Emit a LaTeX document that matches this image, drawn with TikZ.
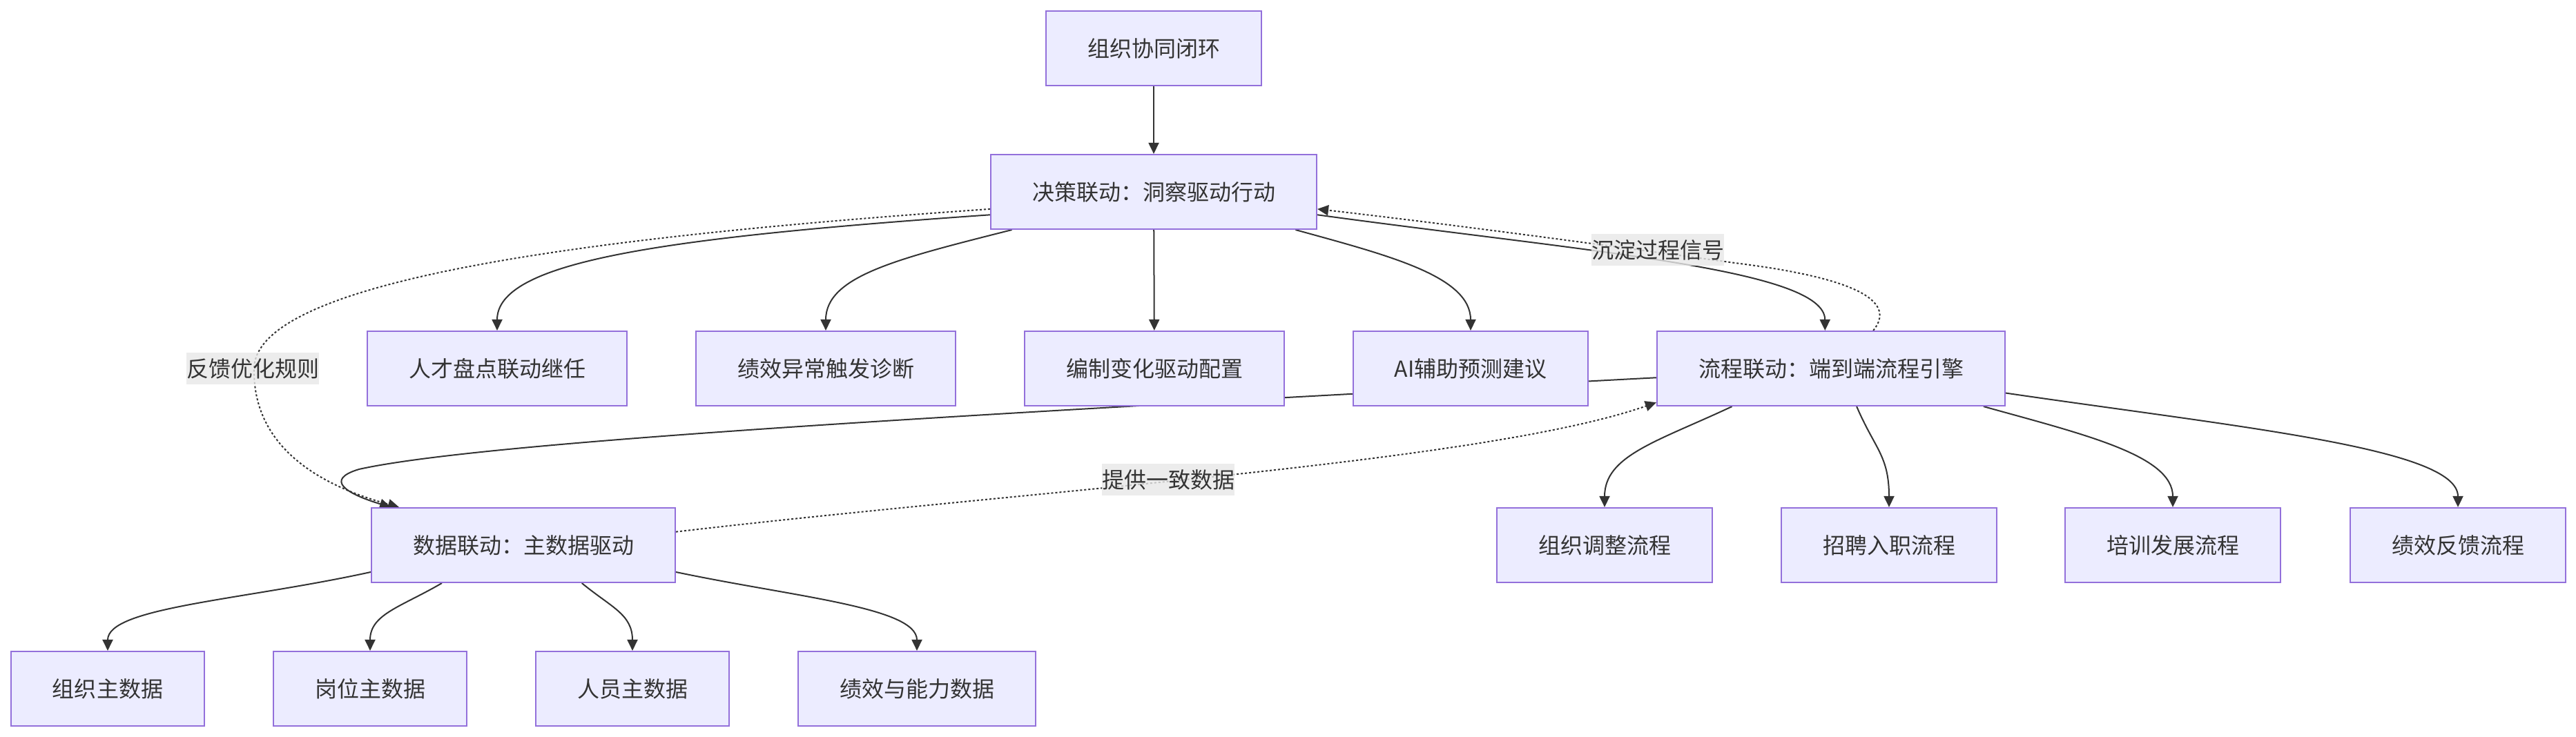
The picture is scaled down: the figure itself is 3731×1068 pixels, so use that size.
\documentclass[tikz,border=0pt]{standalone}
\usepackage{fontspec}
\setmainfont{Noto Sans CJK SC}
\usetikzlibrary{arrows.meta}
\definecolor{boxfill}{HTML}{ECECFF}
\definecolor{boxline}{HTML}{9370DB}
\definecolor{ink}{HTML}{333333}
\definecolor{tagfill}{HTML}{E8E8E8}
\pgfdeclarelayer{back}
\pgfdeclarelayer{edges}
\pgfsetlayers{back,edges,main}

\begin{document}
\begin{tikzpicture}[
  x=0.01cm, y=-0.01cm,
  font=\fontsize{9.1pt}{11pt}\selectfont,
  box/.style={draw=boxline, fill=boxfill, line width=0.02cm, text=ink,
    minimum height=1.08cm, inner xsep=0.6cm, inner ysep=0pt},
  tag/.style={fill=tagfill, fill opacity=0.8, text opacity=1, text=ink,
    inner xsep=0pt, inner ysep=0pt, minimum height=0.46cm},
  link/.style={draw=ink, line width=0.02cm, -{Triangle[length=0.16cm,width=0.15cm]}},
  dotlink/.style={link, dash pattern=on 0.03cm off 0.03cm}
]
  \useasboundingbox (0,0) rectangle (3731,1068);
  \begin{pgfonlayer}{back}
    \fill[white] (0,0) rectangle (3731,1068);
  \end{pgfonlayer}

  \node[box] (loop) at (1671,70) {组织协同闭环};
  \node[box] (decide) at (1671,278) {决策联动：洞察驱动行动};
  \node[box] (talent) at (720,534) {人才盘点联动继任};
  \node[box] (perf) at (1196,534) {绩效异常触发诊断};
  \node[box] (staff) at (1672,534) {编制变化驱动配置};
  \node[box] (ai) at (2130,534) {AI辅助预测建议};
  \node[box] (flow) at (2652,534) {流程联动：端到端流程引擎};
  \node[box] (data) at (758,790) {数据联动：主数据驱动};
  \node[box] (orgdata) at (156,998) {组织主数据};
  \node[box] (posdata) at (536,998) {岗位主数据};
  \node[box] (empdata) at (916,998) {人员主数据};
  \node[box] (capdata) at (1328,998) {绩效与能力数据};
  \node[box] (orgflow) at (2324,790) {组织调整流程};
  \node[box] (hireflow) at (2736,790) {招聘入职流程};
  \node[box] (trainflow) at (3147,790) {培训发展流程};
  \node[box] (fbflow) at (3560,790) {绩效反馈流程};

  \node[tag] (rules) at (366,534) {反馈优化规则};
  \node[tag] (signal) at (2401,362) {沉淀过程信号};
  \node[tag] (consist) at (1692,695) {提供一致数据};

  \begin{pgfonlayer}{edges}
    \draw[link] (loop) -- (decide);
    \draw[link] (decide.188) .. controls (950,345) and (720,380) .. (talent.north);
    \draw[link] (decide.195) .. controls (1300,375) and (1196,400) .. (perf.north);
    \draw[link] (decide) -- (staff);
    \draw[link] (decide.-15.4) .. controls (2010,370) and (2130,400) .. (ai.north);
    \draw[link] (decide.-8) .. controls (2300,365) and (2643,390) .. (flow.99);
    \draw[dotlink] (flow.42) .. controls (2745,440) and (2700,405) .. (2520,382)
      .. controls (2300,352) and (2100,325) .. (decide.-6.5);
    \draw[link] (flow.183) .. controls (1400,600) and (700,640) .. (520,680)
      .. controls (470,695) and (500,715) .. (data.164.3);
    \draw[dotlink] (decide.186) .. controls (900,340) and (370,400) .. (368,534)
      .. controls (366,640) and (450,700) .. (data.163);
    \draw[dotlink] (data.5.7) .. controls (1500,710) and (2150,670) .. (flow.191);
    \draw[link] (flow.201) .. controls (2400,640) and (2324,660) .. (orgflow.north);
    \draw[link] (flow.-56) .. controls (2715,650) and (2736,660) .. (hireflow.north);
    \draw[link] (flow.-14.4) .. controls (3020,630) and (3147,660) .. (trainflow.north);
    \draw[link] (flow.-8) .. controls (3250,620) and (3560,650) .. (fbflow.north);
    \draw[link] (data.190) .. controls (350,870) and (156,880) .. (orgdata.north);
    \draw[link] (data.205) .. controls (580,880) and (536,890) .. (posdata.north);
    \draw[link] (data.-33) .. controls (885,880) and (916,890) .. (empdata.north);
    \draw[link] (data.-10.6) .. controls (1150,865) and (1328,880) .. (capdata.north);
  \end{pgfonlayer}
\end{tikzpicture}
\end{document}
